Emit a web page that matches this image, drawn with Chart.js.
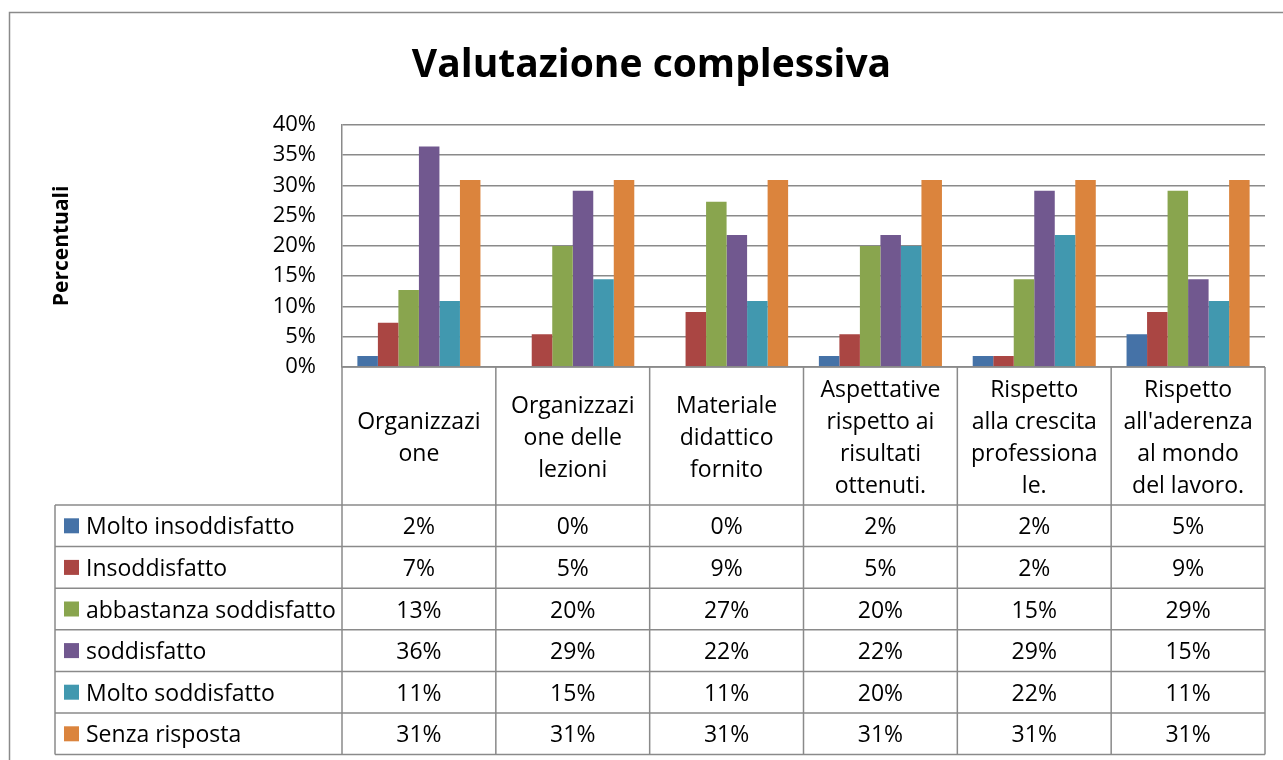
<!DOCTYPE html>
<html>
<head>
<meta charset="utf-8">
<script src="https://cdn.jsdelivr.net/npm/chart.js@4/dist/chart.umd.min.js"></script>
<style>
  body { margin: 0; background: #fff; }
  #wrap { width: 1283px; height: 760px; }
</style>
</head>
<body>
<div id="wrap"><canvas id="chart" width="1283" height="760"></canvas></div>
<script>
// categories (line breaks as in the original table header)
const categories = [
    ['Organizzazi', 'one'],
    ['Organizzazi', 'one delle', 'lezioni'],
    ['Materiale', 'didattico', 'fornito'],
    ['Aspettative', 'rispetto ai', 'risultati', 'ottenuti.'],
    ['Rispetto', 'alla crescita', 'professiona', 'le.'],
    ['Rispetto', "all'aderenza", 'al mondo', 'del lavoro.']
];

const seriesNames = ['Molto insoddisfatto', 'Insoddisfatto', 'abbastanza soddisfatto',
    'soddisfatto', 'Molto soddisfatto', 'Senza risposta'];

const moltoInsoddisfatto = [1.8, 0, 0, 1.8, 1.8, 5.4];
const insoddisfatto = [7.3, 5.4, 9.1, 5.4, 1.8, 9.1];
const abbastanzaSoddisfatto = [12.7, 20.0, 27.3, 20.0, 14.5, 29.1];
const soddisfatto = [36.4, 29.1, 21.8, 21.8, 29.1, 14.5];
const moltoSoddisfatto = [10.9, 14.5, 10.9, 20.0, 21.8, 10.9];
const senzaRisposta = [30.9, 30.9, 30.9, 30.9, 30.9, 30.9];

const yTicks = [0, 5, 10, 15, 20, 25, 30, 35, 40];

const colors = ['#4572A7', '#AA4643', '#89A54E', '#71588F', '#4198AF', '#DB843D'];
const FONT = '"Open Sans"';
const LINE = '#8a8a8a';

const seriesData = [moltoInsoddisfatto, insoddisfatto, abbastanzaSoddisfatto,
    soddisfatto, moltoSoddisfatto, senzaRisposta];

// draws the Excel style data table under the plot area
const dataTable = {
    id: 'dataTable',
    afterDraw(chart) {
        const ctx = chart.ctx;
        const area = chart.chartArea;
        const xs = chart.scales.x;
        const n = categories.length;
        const colW = (area.right - area.left) / n;
        const headerBottom = 505;
        const rowH = 41.6;
        const legendLeft = 55;
        const tableBottom = headerBottom + rowH * seriesNames.length;

        ctx.save();
        // outer frame
        ctx.strokeStyle = LINE;
        ctx.lineWidth = 1.5;
        ctx.strokeRect(9.5, 12.5, 1400, 900);

        ctx.beginPath();
        // column lines
        for (let i = 0; i <= n; i++) {
            const x = area.left + colW * i;
            ctx.moveTo(x, area.bottom);
            ctx.lineTo(x, tableBottom);
        }
        ctx.moveTo(legendLeft, headerBottom);
        ctx.lineTo(legendLeft, tableBottom);
        // row lines
        for (let r = 0; r <= seriesNames.length; r++) {
            const y = headerBottom + rowH * r;
            ctx.moveTo(legendLeft, y);
            ctx.lineTo(area.right, y);
        }
        ctx.moveTo(area.left, area.bottom);
        ctx.lineTo(area.right, area.bottom);
        ctx.stroke();

        ctx.fillStyle = '#000';
        ctx.font = '23px ' + FONT;
        ctx.textAlign = 'center';
        ctx.textBaseline = 'middle';

        // category headers
        categories.forEach((lines, i) => {
            const cx = xs.getPixelForValue(i);
            const mid = (area.bottom + headerBottom) / 2 + 2;
            const lh = 32;
            const y0 = mid - (lines.length - 1) * lh / 2;
            lines.forEach((t, k) => ctx.fillText(t, cx, y0 + k * lh));
        });

        // rows
        seriesNames.forEach((name, r) => {
            const cy = headerBottom + rowH * r + rowH / 2;
            ctx.fillStyle = colors[r];
            ctx.fillRect(64, cy - 7.5, 15, 15);
            ctx.fillStyle = '#000';
            ctx.textAlign = 'left';
            ctx.fillText(name, 86, cy + 2);
            ctx.textAlign = 'center';
            seriesData[r].forEach((v, i) => {
                ctx.fillText(Math.round(v) + '%', xs.getPixelForValue(i), cy + 2);
            });
        });
        ctx.restore();
    }
};

new Chart(document.getElementById('chart'), {
    type: 'bar',
    data: {
        labels: categories,
        datasets: seriesNames.map((name, i) => ({
            label: name,
            data: seriesData[i],
            backgroundColor: colors[i],
            borderWidth: 0
        }))
    },
    options: {
        responsive: false,
        animation: false,
        layout: {
            padding: { left: 38, right: 18, top: 0, bottom: 393 }
        },
        datasets: {
            bar: { categoryPercentage: 0.8, barPercentage: 1.0 }
        },
        plugins: {
            legend: { display: false },
            tooltip: { enabled: false },
            title: {
                display: true,
                text: 'Valutazione complessiva',
                color: '#000',
                font: { family: FONT, size: 39, weight: 'bold', lineHeight: 1.2 },
                padding: { top: 42, bottom: 36 }
            }
        },
        scales: {
            x: {
                display: false
            },
            y: {
                min: 0,
                max: 40,
                afterFit(scale) { scale.width = 304; },
                afterBuildTicks(scale) {
                    scale.ticks = yTicks.map(v => ({ value: v }));
                },
                ticks: {
                    color: '#000',
                    padding: 26,
                    font: { family: FONT, size: 22 },
                    callback: v => v + '%'
                },
                grid: {
                    color: LINE,
                    lineWidth: 1.5,
                    drawTicks: false
                },
                border: { display: true, color: LINE, width: 1.5 },
                title: {
                    display: true,
                    text: 'Percentuali',
                    color: '#000',
                    font: { family: FONT, size: 21, weight: 'bold' },
                    padding: { top: 11, bottom: 0 }
                }
            }
        }
    },
    plugins: [dataTable]
});
</script>
</body>
</html>
